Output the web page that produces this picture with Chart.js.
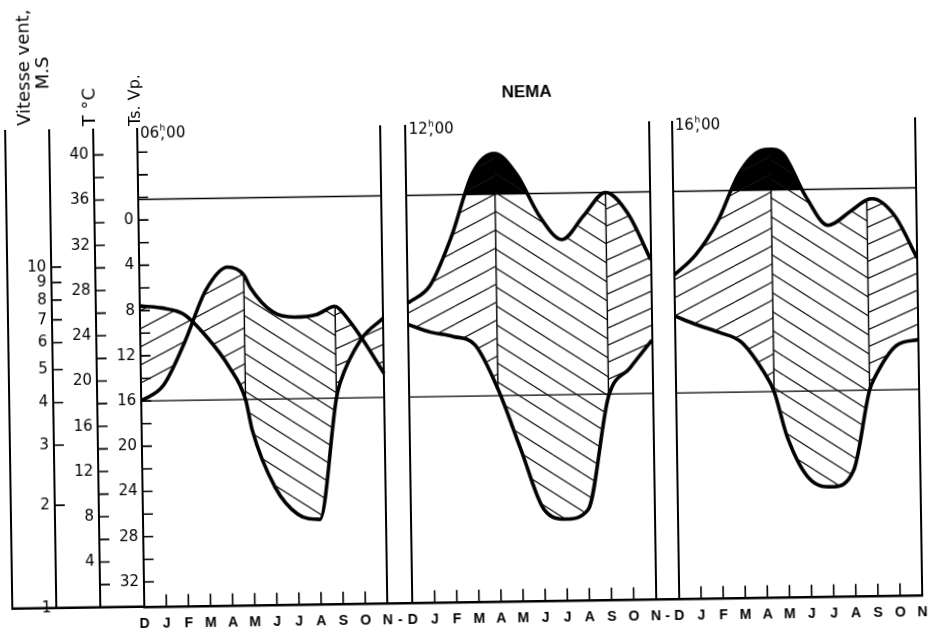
<!DOCTYPE html>
<html>
<head>
<meta charset="utf-8">
<script src="https://cdn.jsdelivr.net/npm/chart.js@4.4.1/dist/chart.umd.min.js"></script>
<style>
html, body { margin: 0; padding: 0; background: #fff; overflow: hidden; }
#wrap { width: 939px; height: 635px; transform: rotate(-0.86deg); transform-origin: 469.5px 317.5px; }
</style>
</head>
<body>
<div id="wrap"><canvas id="c" width="939" height="635"></canvas></div>
<script>
const months = ['D', 'J', 'F', 'M', 'A', 'M', 'J', 'J', 'A', 'S', 'O', 'N'];
const hours = ['06', '12', '16'];

// months counted from December; the extra points are where the hatching changes
const x06 = [0, 1, 2, 3, 4, 4.72, 5, 6, 7, 8, 8.83, 9, 10, 11];
const temp06 = [18.2, 19.5, 23.3, 27.9, 29.9, 29.2, 28.1, 25.9, 25.4, 25.6, 26.3, 26.1, 23.5, 20.3];
const vp06 = [7.6, 7.8, 8.4, 10.4, 13.1, 16.0, 18.7, 23.8, 26.2, 26.7, 16.0, 14.7, 10.8, 9.0];
const div06 = [4.72, 8.83];

const x12 = [0, 1, 2, 3, 4, 5, 6, 7, 8, 9, 10, 11];
const temp12 = [26.5, 28.0, 32.3, 37.9, 39.6, 37.7, 34.0, 31.9, 34.0, 36.0, 34.1, 30.0];
const vp12 = [9.6, 10.3, 10.7, 11.5, 15.4, 20.8, 26.1, 27.0, 26.2, 16.2, 13.7, 11.3];
const div12 = [4, 9];

const x16 = [0, 1, 2, 3, 4, 4.44, 5, 6, 7, 8, 8.76, 9, 10, 11];
const temp16 = [28.6, 30.4, 33.3, 37.5, 39.5, 39.6, 39.2, 35.4, 32.8, 34.0, 35.0, 35.1, 33.6, 29.8];
const vp16 = [9.2, 10.0, 10.7, 11.6, 14.3, 16.0, 20.0, 23.8, 24.5, 23.0, 16.0, 14.9, 12.1, 11.6];
const div16 = [4.44, 8.76];

const tempLimit = 36;
const vpLimit = 16;

const windTicks = [1, 2, 3, 4, 5, 6, 7, 8, 9, 10];
const windMarks = [2, 3, 4, 5, 6, 7, 8, 9, 10];
const tempTicks = [4, 8, 12, 16, 20, 24, 28, 32, 36, 40];
const tempMarks = [2, 4, 6, 8, 10, 12, 14, 16, 18, 20, 22, 24, 26, 28, 30, 32, 34, 36, 38, 40];
const vpTicks = [0, 4, 8, 12, 16, 20, 24, 28, 32];
const vpMarks = [-6, -4, -2, 0, 2, 4, 6, 8, 10, 12, 14, 16, 18, 20, 22, 24, 26, 28, 30, 32];

// layout: where each panel starts on the shared x axis
const panelStart = [0, 12.14, 24.19];
const panelLen = 11;

const panels = [
    { xs: x06, temp: temp06, vp: vp06, divs: div06 },
    { xs: x12, temp: temp12, vp: vp12, divs: div12 },
    { xs: x16, temp: temp16, vp: vp16, divs: div16 }
];

const ctx = document.getElementById('c').getContext('2d');

function hatch(w, h, rising) {
    const tile = document.createElement('canvas');
    tile.width = w;
    tile.height = h;
    const g = tile.getContext('2d');
    g.strokeStyle = '#111';
    g.lineWidth = 1.2;
    for (const k of [-1, 0, 1]) {
        g.beginPath();
        if (rising) {
            g.moveTo(0, h + k * h);
            g.lineTo(w, k * h);
        } else {
            g.moveTo(0, k * h);
            g.lineTo(w, h + k * h);
        }
        g.stroke();
    }
    return ctx.createPattern(tile, 'repeat');
}

const hatchA = hatch(35, 18, true);
const hatchB = hatch(29, 19, false);
const hatchC = hatch(39, 17, true);

// x ticks: every month of each panel, plus the dash between panels
const tickValues = [];
const tickLabels = [];
panelStart.forEach((s, p) => {
    months.forEach((m, i) => {
        tickValues.push(s + i);
        tickLabels.push(m);
    });
    if (p < panelStart.length - 1) {
        tickValues.push((s + panelLen + panelStart[p + 1]) / 2);
        tickLabels.push('-');
    }
});
const edgeValues = [];
panelStart.forEach(s => edgeValues.push(s, s + panelLen));

function limitData(v) {
    const d = [];
    panelStart.forEach(s => {
        d.push({ x: s, y: v }, { x: s + panelLen, y: v }, { x: s + panelLen + 0.5, y: null });
    });
    return d;
}

const datasets = [];
const panelSets = [];
panels.forEach((pn, p) => {
    const s = panelStart[p];
    const tIdx = datasets.length;
    datasets.push({
        data: pn.xs.map((m, i) => ({ x: s + m, y: pn.temp[i] })),
        yAxisID: 'y',
        borderColor: '#000',
        borderWidth: 3.6,
        backgroundColor: hatchA,
        fill: '+1',
        cubicInterpolationMode: 'monotone',
        pointRadius: 0,
        borderJoinStyle: 'round',
        segment: {
            backgroundColor: c => {
                const mx = (pn.xs[c.p0DataIndex] + pn.xs[c.p1DataIndex]) / 2;
                if (mx < pn.divs[0]) return hatchA;
                if (mx < pn.divs[1]) return hatchB;
                return hatchC;
            }
        }
    });
    datasets.push({
        data: pn.xs.map((m, i) => ({ x: s + m, y: pn.vp[i] })),
        yAxisID: 'ts',
        borderColor: '#000',
        borderWidth: 3.6,
        fill: false,
        cubicInterpolationMode: 'monotone',
        pointRadius: 0,
        borderJoinStyle: 'round'
    });
    datasets.push({
        data: pn.xs.map((m, i) => ({ x: s + m, y: pn.temp[i] })),
        yAxisID: 'y',
        borderWidth: 0,
        borderColor: 'rgba(0,0,0,0)',
        fill: { target: { value: tempLimit }, above: '#000', below: 'rgba(0,0,0,0)' },
        cubicInterpolationMode: 'monotone',
        pointRadius: 0
    });
    panelSets.push({ tIdx: tIdx, vIdx: tIdx + 1, xs: pn.xs, divs: pn.divs });
});
datasets.push({
    data: limitData(tempLimit),
    yAxisID: 'y',
    borderColor: '#000',
    borderWidth: 1.4,
    pointRadius: 0,
    fill: false
});
datasets.push({
    data: limitData(vpLimit),
    yAxisID: 'ts',
    borderColor: '#000',
    borderWidth: 1.4,
    pointRadius: 0,
    fill: false
});

const numFont = { family: 'DejaVu Sans', size: 15 };

function vtext(g, s, x, y, font) {
    g.save();
    g.translate(x, y);
    g.rotate(-Math.PI / 2);
    g.font = font;
    g.textAlign = 'center';
    g.textBaseline = 'middle';
    g.fillText(s, 0, 0);
    g.restore();
}

const decor = {
    id: 'decor',
    afterDraw(chart) {
        const g = chart.ctx;
        const area = chart.chartArea;
        const xs = chart.scales.x;
        g.save();
        g.strokeStyle = '#000';
        g.fillStyle = '#000';

        // tick marks pointing right from each vertical axis
        g.lineWidth = 1.6;
        [[chart.scales.wind, windMarks], [chart.scales.y, tempMarks], [chart.scales.ts, vpMarks]].forEach(([sc, vals]) => {
            g.beginPath();
            vals.forEach(v => {
                const y = sc.getPixelForValue(v);
                g.moveTo(sc.right - 1, y);
                g.lineTo(sc.right + 10, y);
            });
            g.stroke();
        });

        // month tick marks pointing up
        g.beginPath();
        panelStart.forEach(s => {
            for (let m = 1; m < panelLen; m++) {
                const x = xs.getPixelForValue(s + m);
                g.moveTo(x, area.bottom);
                g.lineTo(x, area.bottom - 12);
            }
        });
        g.stroke();

        // base line under the left axes
        g.lineWidth = 2.4;
        g.beginPath();
        g.moveTo(chart.scales.frame.right - 1, area.bottom);
        g.lineTo(area.left, area.bottom);
        g.stroke();

        // dividers between hatching directions
        g.lineWidth = 1.4;
        const yLim = chart.scales.y.getPixelForValue(tempLimit);
        panelSets.forEach(ps => {
            const tm = chart.getDatasetMeta(ps.tIdx);
            const vm = chart.getDatasetMeta(ps.vIdx);
            g.beginPath();
            ps.divs.forEach(d => {
                const i = ps.xs.indexOf(d);
                const pt = tm.data[i];
                const pv = vm.data[i];
                g.moveTo(pt.x, Math.max(pt.y, yLim));
                g.lineTo(pv.x, pv.y);
            });
            g.stroke();
        });

        // titles
        vtext(g, 'Vitesse vent,', 28.7, 61, '18px "DejaVu Sans"');
        vtext(g, 'M.S', 47.7, 66.6, '18px "DejaVu Sans"');
        vtext(g, 'T °C', 93.2, 101.3, '18px "DejaVu Sans"');
        vtext(g, 'Ts. Vp.', 139.3, 95, '16px "DejaVu Sans"');

        g.font = 'bold 17px "Liberation Sans"';
        g.textAlign = 'center';
        g.textBaseline = 'middle';
        g.fillText('NEMA', xs.getPixelForValue(panelStart[1] + panelLen / 2), 93);

        g.textAlign = 'left';
        hours.forEach((h, p) => {
            const x0 = xs.getPixelForValue(panelStart[p]) + 3;
            const y0 = area.top + 5;
            g.font = '15px "DejaVu Sans"';
            g.fillText(h, x0, y0);
            const w = g.measureText(h).width;
            g.fillText(',', x0 + w + 1, y0 + 1);
            g.fillText('00', x0 + w + 7, y0);
            g.font = '9px "DejaVu Sans"';
            g.fillText('h', x0 + w + 0.5, y0 - 5);
        });
        g.restore();
    }
};

new Chart(ctx, {
    type: 'line',
    data: { datasets: datasets },
    options: {
        responsive: false,
        animation: false,
        devicePixelRatio: 1,
        layout: { padding: { top: 124, right: 21, left: 0, bottom: 0 } },
        plugins: { legend: { display: false }, tooltip: { enabled: false } },
        scales: {
            x: {
                type: 'linear',
                min: 0,
                max: panelStart[2] + panelLen,
                afterBuildTicks: sc => { sc.ticks = tickValues.map(v => ({ value: v })); },
                afterFit: sc => { sc.height = 33.3; },
                grid: { display: false, drawTicks: false },
                border: { display: true, color: '#000', width: 2.4 },
                ticks: {
                    autoSkip: false,
                    maxRotation: 0,
                    padding: 9,
                    color: '#000',
                    font: { family: 'Liberation Sans', size: 14, weight: 'bold' },
                    callback: (v, i) => tickLabels[i]
                }
            },
            edges: {
                type: 'linear',
                position: 'bottom',
                min: 0,
                max: panelStart[2] + panelLen,
                afterBuildTicks: sc => { sc.ticks = edgeValues.map(v => ({ value: v })); },
                afterFit: sc => { sc.height = 0; },
                grid: { display: true, drawOnChartArea: true, drawTicks: false, color: '#000', lineWidth: 2 },
                border: { display: false },
                ticks: { display: false }
            },
            frame: {
                type: 'linear',
                position: 'left',
                weight: 3,
                min: 0,
                max: 1,
                afterFit: sc => { sc.width = 8; },
                grid: { display: false, drawTicks: false },
                border: { display: true, color: '#000', width: 2 },
                ticks: { display: false }
            },
            wind: {
                type: 'logarithmic',
                position: 'left',
                weight: 2,
                min: 1,
                max: 25.2,
                afterBuildTicks: sc => { sc.ticks = windTicks.map(v => ({ value: v })); },
                afterFit: sc => { sc.width = 44; },
                grid: { display: false, drawTicks: false },
                border: { display: true, color: '#000', width: 2 },
                ticks: { autoSkip: false, padding: 5, color: '#000', font: numFont, callback: v => String(v) }
            },
            y: {
                type: 'linear',
                position: 'left',
                weight: 1,
                min: 0,
                max: 42.24,
                afterBuildTicks: sc => { sc.ticks = tempTicks.map(v => ({ value: v })); },
                afterFit: sc => { sc.width = 44; },
                grid: { display: false, drawTicks: false },
                border: { display: true, color: '#000', width: 2 },
                ticks: { autoSkip: false, padding: 5, color: '#000', font: numFont, callback: v => String(v) }
            },
            ts: {
                type: 'linear',
                position: 'left',
                weight: 0,
                reverse: true,
                min: -8.06,
                max: 34.18,
                afterBuildTicks: sc => { sc.ticks = vpTicks.map(v => ({ value: v })); },
                afterFit: sc => { sc.width = 44; },
                grid: { display: false, drawTicks: false },
                border: { display: true, color: '#000', width: 2 },
                ticks: { autoSkip: false, padding: 5, color: '#000', font: numFont, callback: v => String(v) }
            }
        }
    },
    plugins: [decor]
});
</script>
</body>
</html>
